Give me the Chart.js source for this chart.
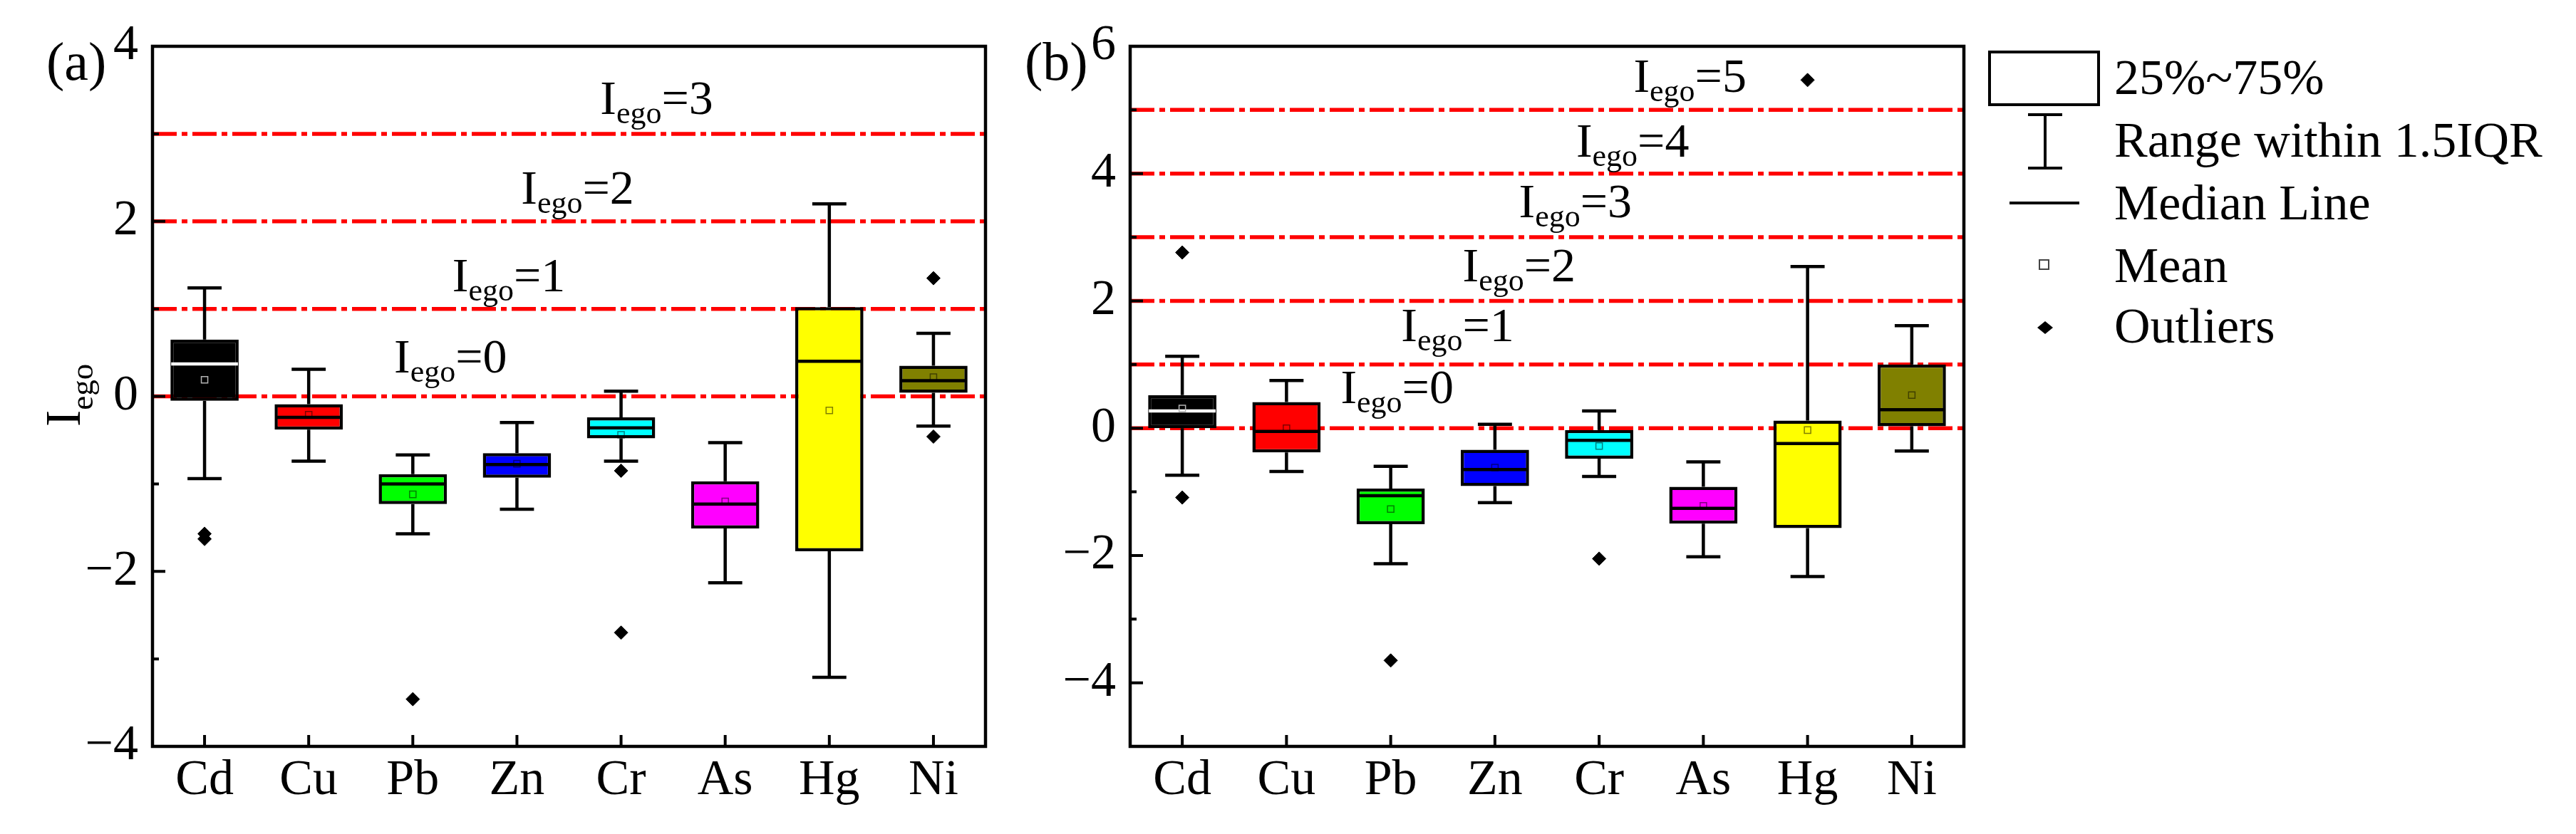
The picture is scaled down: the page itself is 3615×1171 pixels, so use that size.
<!DOCTYPE html>
<html>
<head>
<meta charset="utf-8">
<script src="https://cdn.jsdelivr.net/npm/chart.js@4.4.1/dist/chart.umd.min.js"></script>
<style>
html, body { margin: 0; padding: 0; background: #fff; }
#wrap { position: relative; width: 3615px; height: 1171px; overflow: hidden; background: #fff; }
canvas { position: absolute; top: 0; }
#chartA { left: 0; }
#chartB { left: 1400px; }
</style>
</head>
<body>
<div id="wrap">
  <canvas id="chartA" width="1420" height="1171"></canvas>
  <canvas id="chartB" width="2215" height="1171"></canvas>
</div>
<script>
// elements on the x axis
const elements = ['Cd', 'Cu', 'Pb', 'Zn', 'Cr', 'As', 'Hg', 'Ni'];

// (a) box statistics
const aLow    = [-0.94, -0.74, -1.57, -1.29, -0.74, -2.13, -3.21, -0.34];
const aQ1     = [-0.05, -0.38, -1.23, -0.93, -0.48, -1.51, -1.77,  0.04];
const aMedian = [ 0.37, -0.24, -1.00, -0.78, -0.36, -1.23,  0.40,  0.18];
const aQ3     = [ 0.65, -0.09, -0.89, -0.65, -0.24, -0.97,  1.02,  0.35];
const aHigh   = [ 1.24,  0.31, -0.67, -0.30,  0.06, -0.53,  2.20,  0.72];
const aMean   = [ 0.19, -0.21, -1.12, -0.77, -0.44, -1.20, -0.16,  0.22];
const aOutliers = [['Cd', -1.57], ['Cd', -1.63], ['Pb', -3.46], ['Cr', -0.85], ['Cr', -2.70], ['Ni', 1.35], ['Ni', -0.46]];
const aLevels = [0, 1, 2, 3];

// (b) box statistics
const bLow    = [-0.74, -0.68, -2.13, -1.17, -0.76, -2.02, -2.33, -0.36];
const bQ1     = [ 0.00, -0.38, -1.51, -0.91, -0.48, -1.50, -1.57,  0.03];
const bMedian = [ 0.27, -0.05, -1.06, -0.65, -0.19, -1.26, -0.24,  0.29];
const bQ3     = [ 0.52,  0.41, -0.95, -0.34, -0.03, -0.92,  0.12,  1.00];
const bHigh   = [ 1.13,  0.75, -0.60,  0.06,  0.27, -0.53,  2.54,  1.61];
const bMean   = [ 0.31,  0.00, -1.27, -0.62, -0.28, -1.22, -0.03,  0.52];
const bOutliers = [['Cd', 2.76], ['Cd', -1.09], ['Pb', -3.65], ['Cr', -2.05], ['Hg', 5.47]];
const bLevels = [0, 1, 2, 3, 4, 5];

const legendTexts = ['25%~75%', 'Range within 1.5IQR', 'Median Line', 'Mean', 'Outliers'];

// styles
const boxColors = ['#000000', '#ff0000', '#00ff00', '#0000ff', '#00ffff', '#ff00ff', '#ffff00', '#808000'];
const medianColors = ['#ffffff', '#000', '#000', '#000', '#000', '#000', '#000', '#000'];
const meanColors = ['#b4b4b4', 'rgba(0,0,0,0.5)', 'rgba(0,0,0,0.5)', 'rgba(0,0,0,0.5)',
                    'rgba(0,0,0,0.5)', 'rgba(0,0,0,0.5)', 'rgba(0,0,0,0.5)', 'rgba(0,0,0,0.5)'];

const FONT = "'Liberation Serif', 'Times New Roman', serif";
Chart.defaults.font.family = FONT;
Chart.defaults.color = '#000';

function setFont(ctx, size)
{
    ctx.font = size + 'px ' + FONT;
}

function fmtTick(v)
{
    v = Math.round(v);
    if (v % 2 !== 0) return '';
    return v < 0 ? '\u2212' + Math.abs(v) : String(v);
}

// I with subscript ego, then the tail text
function drawIego(ctx, x, y, tail)
{
    setFont(ctx, 68);
    ctx.fillText('I', x, y);
    x += ctx.measureText('I').width;
    setFont(ctx, 44);
    ctx.fillText('ego', x, y + 13);
    x += ctx.measureText('ego').width;
    setFont(ctx, 68);
    ctx.fillText(tail, x, y);
}

function line(ctx, x1, y1, x2, y2)
{
    ctx.moveTo(x1, y1);
    ctx.lineTo(x2, y2);
}

const boxParts = {
    id: 'boxParts',

    beforeDatasetsDraw(chart, args, o) {
        const ctx = chart.ctx, a = chart.chartArea, xs = chart.scales.x, ys = chart.scales.y;
        ctx.save();
        ctx.strokeStyle = '#ff0000';
        ctx.lineWidth = 5.5;
        ctx.setLineDash([34, 7, 8, 7]);
        o.levels.forEach(v => {
            const py = ys.getPixelForValue(v);
            ctx.beginPath();
            line(ctx, a.left, py, a.right, py);
            ctx.stroke();
        });
        ctx.setLineDash([]);
        ctx.fillStyle = '#000';
        ctx.textAlign = 'left';
        ctx.textBaseline = 'alphabetic';
        o.levels.forEach((v, i) => {
            const at = o.labelAt[i];
            drawIego(ctx, xs.getPixelForValue(at[0]), ys.getPixelForValue(at[1]), '=' + v);
        });
        ctx.restore();
    },

    // whiskers and medians, right after the boxes
    afterDatasetDraw(chart, args, o) {
        if (args.index !== 0) return;
        const ctx = chart.ctx, ys = chart.scales.y, s = o.stats;
        const py = v => ys.getPixelForValue(v);
        ctx.save();
        ctx.lineWidth = 4.5;
        args.meta.data.forEach((bar, i) => {
            const half = bar.width / 2, cap = bar.width / 4;
            ctx.strokeStyle = '#000';
            ctx.beginPath();
            line(ctx, bar.x, py(s.q3[i]), bar.x, py(s.high[i]));
            line(ctx, bar.x - cap, py(s.high[i]), bar.x + cap, py(s.high[i]));
            line(ctx, bar.x, py(s.q1[i]), bar.x, py(s.low[i]));
            line(ctx, bar.x - cap, py(s.low[i]), bar.x + cap, py(s.low[i]));
            ctx.stroke();
            ctx.strokeStyle = medianColors[i];
            ctx.beginPath();
            line(ctx, bar.x - half + 1, py(s.median[i]), bar.x + half - 1, py(s.median[i]));
            ctx.stroke();
        });
        ctx.restore();
    },

    afterDraw(chart, args, o) {
        const ctx = chart.ctx, a = chart.chartArea, xs = chart.scales.x, ys = chart.scales.y;
        ctx.save();
        ctx.strokeStyle = '#000';

        // inward ticks
        ctx.lineWidth = 4;
        ctx.beginPath();
        ys.ticks.forEach(t => {
            const v = Math.round(t.value);
            if (v === ys.min || v === ys.max) return;
            const p = ys.getPixelForValue(v);
            line(ctx, a.left, p, a.left + (v % 2 === 0 ? 18 : 9), p);
        });
        xs.ticks.forEach((t, i) => {
            const p = xs.getPixelForValue(i);
            line(ctx, p, a.bottom, p, a.bottom - 16);
        });
        ctx.stroke();

        // frame
        ctx.lineWidth = 4.5;
        ctx.strokeRect(a.left, a.top, a.right - a.left, a.bottom - a.top);

        ctx.fillStyle = '#000';
        ctx.textAlign = 'left';
        ctx.textBaseline = 'alphabetic';
        setFont(ctx, 76);
        ctx.fillText(o.panel, o.panelX, 112);

        if (o.yTitle) {
            ctx.save();
            ctx.translate(112, 599);
            ctx.rotate(-Math.PI / 2);
            setFont(ctx, 70);
            ctx.fillText('I', 0, 0);
            const w = ctx.measureText('I').width;
            setFont(ctx, 45);
            ctx.fillText('ego', w, 18);
            ctx.restore();
        }

        if (o.legend) {
            const dx = -o.legend.shift;
            ctx.lineWidth = 4;
            ctx.strokeRect(2792 + dx, 73, 153, 74);
            ctx.beginPath();
            line(ctx, 2870 + dx, 161, 2870 + dx, 236);
            line(ctx, 2846 + dx, 161, 2894 + dx, 161);
            line(ctx, 2846 + dx, 236, 2894 + dx, 236);
            line(ctx, 2820 + dx, 285, 2918 + dx, 285);
            ctx.stroke();
            ctx.lineWidth = 2;
            ctx.strokeStyle = '#444';
            ctx.strokeRect(2862 + dx, 365, 13, 13);
            ctx.beginPath();
            ctx.moveTo(2859 + dx, 460);
            ctx.lineTo(2870 + dx, 451);
            ctx.lineTo(2881 + dx, 460);
            ctx.lineTo(2870 + dx, 469);
            ctx.closePath();
            ctx.fill();
            setFont(ctx, 70);
            const bases = [132, 220, 308, 396, 481];
            legendTexts.forEach((t, i) => ctx.fillText(t, 2967 + dx, bases[i]));
        }
        ctx.restore();
    }
};

function boxChart(canvasId, st, outliers, opt)
{
    const cfg = {
        type: 'bar',
        data: {
            labels: elements,
            datasets: [
                {
                    type: 'bar',
                    data: elements.map((e, i) => [st.q1[i], st.q3[i]]),
                    backgroundColor: boxColors,
                    borderColor: '#000',
                    borderWidth: 4.5,
                    borderSkipped: false,
                    barPercentage: 0.655,
                    categoryPercentage: 1,
                    order: 3
                },
                {
                    type: 'line',
                    data: st.mean.map((v, i) => ({ x: elements[i], y: v })),
                    showLine: false,
                    pointStyle: 'rect',
                    pointRadius: 6.4,
                    pointBackgroundColor: 'rgba(0,0,0,0)',
                    pointBorderColor: meanColors,
                    pointBorderWidth: 1.5,
                    order: 1
                },
                {
                    type: 'line',
                    data: outliers.map(p => ({ x: p[0], y: p[1] })),
                    showLine: false,
                    pointStyle: 'rectRot',
                    pointRadius: 9.5,
                    pointBackgroundColor: '#000',
                    pointBorderColor: '#000',
                    pointBorderWidth: 1,
                    order: 0
                }
            ]
        },
        options: {
            responsive: false,
            devicePixelRatio: 1,
            animation: false,
            events: [],
            layout: { padding: { left: 0, right: opt.padRight, top: 65, bottom: 0 } },
            scales: {
                x: {
                    type: 'category',
                    offset: true,
                    grid: { display: false, drawTicks: false },
                    border: { display: false },
                    ticks: { color: '#000', font: { size: 70 }, padding: 7, maxRotation: 0, autoSkip: false },
                    afterFit: s => { s.height = 123; }
                },
                y: {
                    type: 'linear',
                    min: opt.yMin,
                    max: opt.yMax,
                    grid: { display: false, drawTicks: false },
                    border: { display: false },
                    ticks: { stepSize: 1, padding: 20, color: '#000', font: { size: 70 }, callback: fmtTick },
                    afterFit: s => { s.width = opt.axisW; }
                }
            },
            plugins: {
                legend: { display: false },
                tooltip: { enabled: false },
                boxParts: {
                    stats: st,
                    levels: opt.levels,
                    labelAt: opt.labelAt,
                    panel: opt.panel,
                    panelX: opt.panelX,
                    yTitle: opt.yTitle,
                    legend: opt.legend
                }
            }
        },
        plugins: [boxParts]
    };
    return new Chart(document.getElementById(canvasId), cfg);
}

boxChart('chartA',
    { low: aLow, q1: aQ1, median: aMedian, q3: aQ3, high: aHigh, mean: aMean },
    aOutliers,
    {
        yMin: -4, yMax: 4, axisW: 214, padRight: 37,
        levels: aLevels,
        labelAt: [[1.82, 0.27], [2.38, 1.20], [3.04, 2.20], [3.80, 3.23]],
        panel: '(a)', panelX: 65, yTitle: true, legend: null
    });

boxChart('chartB',
    { low: bLow, q1: bQ1, median: bMedian, q3: bQ3, high: bHigh, mean: bMean },
    bOutliers,
    {
        yMin: -5, yMax: 6, axisW: 186, padRight: 859,
        levels: bLevels,
        labelAt: [[1.52, 0.39], [2.10, 1.37], [2.69, 2.31], [3.23, 3.31], [3.78, 4.27], [4.33, 5.28]],
        panel: '(b)', panelX: 38, yTitle: false, legend: { shift: 1400 }
    });
</script>
</body>
</html>
